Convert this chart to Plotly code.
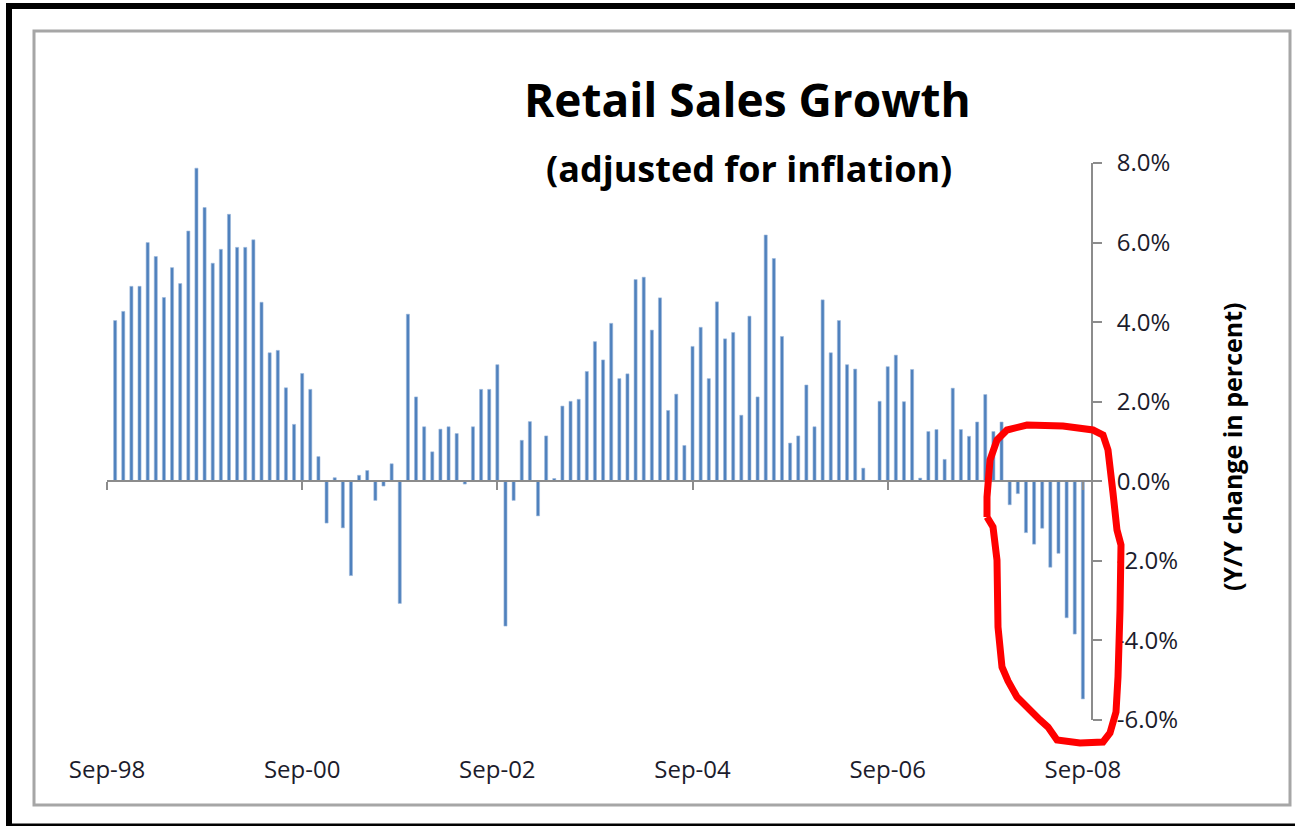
import plotly.graph_objects as go
import pandas as pd

# ---- data -------------------------------------------------------------
months = [d.strftime("%b-%y") for d in pd.date_range("1998-10-01", periods=120, freq="MS")]
growth = [
    4.04, 4.27, 4.90, 4.90, 6.00, 5.65, 4.62, 5.37, 4.97, 6.29, 7.87, 6.88,
    5.48, 5.83, 6.71, 5.88, 5.88, 6.07, 4.50, 3.23, 3.29, 2.35, 1.43, 2.71,
    2.31, 0.62, -1.05, 0.09, -1.17, -2.37, 0.15, 0.27, -0.48, -0.12, 0.44, -3.07,
    4.20, 2.12, 1.37, 0.74, 1.31, 1.37, 1.20, -0.07, 1.37, 2.31, 2.31, 2.93,
    -3.64, -0.48, 1.03, 1.50, -0.87, 1.14, 0.07, 1.89, 2.01, 2.06, 2.76, 3.51,
    3.05, 3.97, 2.58, 2.70, 5.07, 5.13, 3.80, 4.61, 1.78, 2.19, 0.90, 3.39,
    3.87, 2.58, 4.51, 3.58, 3.74, 1.66, 4.15, 2.12, 6.19, 5.60, 3.64, 0.96,
    1.14, 2.42, 1.37, 4.56, 3.23, 4.04, 2.93, 2.82, 0.33, 0.00, 2.01, 2.88,
    3.17, 2.00, 2.81, 0.08, 1.25, 1.30, 0.55, 2.34, 1.30, 1.13, 1.49, 2.18,
    1.25, 1.49, -0.59, -0.31, -1.29, -1.58, -1.18, -2.16, -1.81, -3.43, -3.84, -5.47,
]
tick_labels = ["Sep-98", "Sep-00", "Sep-02", "Sep-04", "Sep-06", "Sep-08"]
y_ticks = [-6, -4, -2, 0, 2, 4, 6, 8]

# ---- layout geometry (pixels) ----------------------------------------
W, H = 1295, 826
ML, MR, MT, MB = 107, 204, 163, 106
PW, PH = W - ML - MR, H - MT - MB
Y_MIN, Y_MAX = -6, 8

def px(x):
    return (x - ML) / PW

def py(y):
    return (H - MB - y) / PH

positions = list(range(1, len(growth) + 1))
tick_pos = [i * 24 for i in range(len(tick_labels))]

FONT = "Open Sans"
BAR = "#4F81BD"
AXIS = "#8C8C8C"
TXT = "#1c1c2c"

fig = go.Figure()
fig.add_trace(go.Bar(
    x=positions, y=growth, customdata=months,
    marker=dict(color=BAR, line=dict(width=0.6, color="#9DB9DC")),
    width=0.38,
    hovertemplate="%{customdata}: %{y:.1f}%<extra></extra>",
    xaxis="x", yaxis="y",
))
# invisible trace to activate the zero-crossing axis
fig.add_trace(go.Scatter(x=[0], y=[0], mode="markers", marker=dict(opacity=0),
                         xaxis="x2", yaxis="y", hoverinfo="skip", showlegend=False))

zero_pos = (0 - Y_MIN) / (Y_MAX - Y_MIN)

fig.update_layout(
    width=W, height=H,
    margin=dict(l=ML, r=MR, t=MT, b=MB),
    paper_bgcolor="white", plot_bgcolor="white",
    showlegend=False,
    font=dict(family=FONT, color=TXT),
    xaxis=dict(
        range=[0, 121], tickvals=tick_pos, ticktext=tick_labels,
        showgrid=False, zeroline=False, showline=False,
        ticks="outside", ticklen=28, tickcolor="rgba(0,0,0,0)",
        tickfont=dict(size=24, family=FONT, color=TXT),
    ),
    xaxis2=dict(
        range=[0, 121], overlaying="x", anchor="free", position=zero_pos,
        side="bottom", tickvals=tick_pos, showticklabels=False,
        showgrid=False, zeroline=False, showline=True, linecolor=AXIS, linewidth=2,
        ticks="outside", ticklen=8, tickwidth=2, tickcolor=AXIS,
    ),
    yaxis=dict(
        range=[Y_MIN, Y_MAX], side="right", tickvals=y_ticks,
        ticktext=[f"{v:.1f}%" for v in y_ticks],
        showgrid=False, zeroline=False, showline=True, linecolor=AXIS, linewidth=2,
        ticks="outside", ticklen=9, tickwidth=2, tickcolor=AXIS,
        tickfont=dict(size=24, family=FONT, color=TXT),
        ticklabelstandoff=10,
    ),
    bargap=0.6,
)

annotations = [
    dict(text="<b>Retail Sales Growth</b>", x=px(747), y=py(99), xref="paper", yref="paper",
         showarrow=False, xanchor="center", yanchor="middle",
         font=dict(size=46, family=FONT, color="black")),
    dict(text="<b>(adjusted for inflation)</b>", x=px(749), y=py(168), xref="paper", yref="paper",
         showarrow=False, xanchor="center", yanchor="middle",
         font=dict(size=36, family=FONT, color="black")),
    dict(text="<b>(Y/Y change in percent)</b>", x=px(1232), y=py(447), xref="paper", yref="paper",
         showarrow=False, xanchor="center", yanchor="middle", textangle=-90,
         font=dict(size=25, family=FONT, color="black")),
]
fig.update_layout(annotations=annotations)

# frame: chart-area border and black outer frame
shapes = [
    dict(type="rect", xref="paper", yref="paper", x0=px(34), x1=px(1290), y0=py(31), y1=py(805),
         line=dict(color="#A6A6A6", width=3), layer="below"),
    dict(type="line", xref="paper", yref="paper", x0=px(9), x1=px(9), y0=py(3), y1=py(826),
         line=dict(color="black", width=6)),
    dict(type="line", xref="paper", yref="paper", x0=px(6), x1=px(1295), y0=py(6), y1=py(6),
         line=dict(color="black", width=6)),
    dict(type="line", xref="paper", yref="paper", x0=px(6), x1=px(1295), y0=py(825), y1=py(825),
         line=dict(color="black", width=3)),
]

# hand-drawn red highlight loop around the latest months
loop_px = [
    (987, 517), (987, 497), (990, 460), (997, 440), (1007, 430), (1027, 425),
    (1063, 426), (1093, 430), (1103, 435), (1108, 450), (1113, 493), (1117, 530),
    (1121, 545), (1120, 610), (1118, 677), (1116, 712), (1110, 733), (1103, 742),
    (1080, 743), (1057, 740), (1048, 727), (1040, 720), (1017, 697), (1008, 681),
    (1002, 667), (998, 627), (997, 560), (993, 527), (987, 517),
]
path = "M " + " L ".join(f"{px(a):.5f},{py(b):.5f}" for a, b in loop_px)
shapes.append(dict(type="path", xref="paper", yref="paper", path=path,
                   line=dict(color="#FF0000", width=7)))
fig.update_layout(shapes=shapes)

fig.write_html("out.html", config={"displayModeBar": False},
               post_script="document.body.style.margin='0';document.body.style.padding='0';")
